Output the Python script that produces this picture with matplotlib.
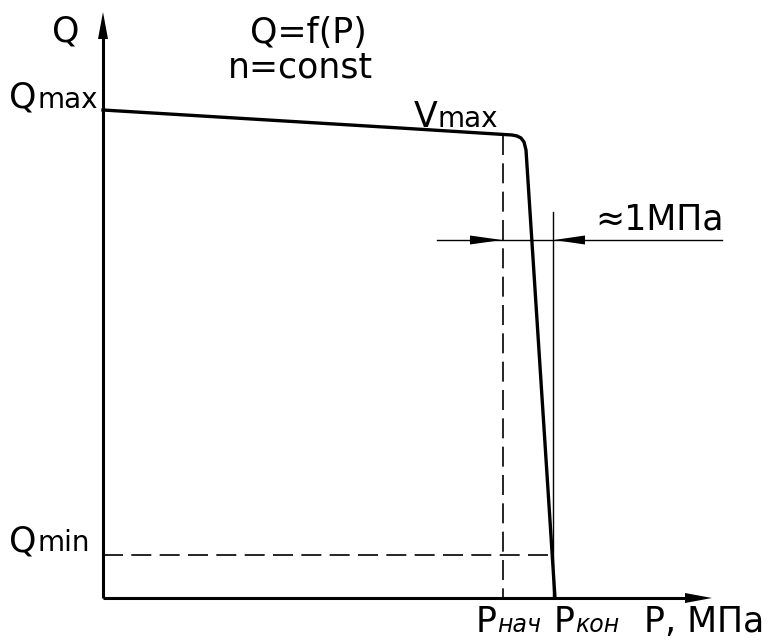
import numpy as np
import matplotlib.pyplot as plt

plt.rcParams['font.family'] = ['DejaVu Sans']

# schematic coordinates (drawing units, y grows downward)
axis_origin = (103, 598)
p_axis_end = 712
q_axis_end = 12

# Q = f(P) characteristic
curve_p = [103, 400, 512, 517, 521, 524, 526, 555]
curve_q = [110, 128, 135, 136, 138, 142, 150, 598]

p_nach = 503
p_kon = 553
q_min = 555
dim_y = 240

fig = plt.figure(figsize=(7.68, 6.41), dpi=100)
ax = fig.add_axes([0, 0, 1, 1])
ax.set_xlim(0, 768)
ax.set_ylim(641, 0)
ax.axis('off')

x0, y0 = axis_origin
# axes with arrows
ax.plot([x0, x0], [y0, q_axis_end + 20], color='k', lw=2.2, solid_capstyle='butt')
ax.plot([x0, p_axis_end - 20], [y0, y0], color='k', lw=2.2, solid_capstyle='butt')
ax.fill([x0 - 5, x0 + 5, x0], [q_axis_end + 27, q_axis_end + 27, q_axis_end], color='k', lw=0)
ax.fill([p_axis_end - 27, p_axis_end - 27, p_axis_end], [y0 - 5, y0 + 5, y0], color='k', lw=0)

# characteristic curve
ax.plot(curve_p, curve_q, color='k', lw=2.4, solid_joinstyle='round')

# dashed guides
ax.plot([p_nach, p_nach], [135, y0], color='k', lw=1.2, dashes=(12, 5))
ax.plot([x0, 552], [q_min, q_min], color='k', lw=1.2, dashes=(12, 5))

# thin vertical at P kon
ax.plot([p_kon, p_kon], [212, y0], color='k', lw=1.0)

# dimension line with arrows
ax.plot([437, 722], [dim_y, dim_y], color='k', lw=1.0)
ax.fill([470, 470, p_nach - 1], [dim_y - 4.5, dim_y + 4.5, dim_y], color='k', lw=0)
ax.fill([p_kon + 32, p_kon + 32, p_kon + 1], [dim_y - 4.5, dim_y + 4.5, dim_y], color='k', lw=0)

fs = 25
sub = 20
ax.text(660, 230, '≈1МПа', fontsize=fs, ha='center', va='baseline')
ax.text(66, 41, 'Q', fontsize=fs, ha='center', va='baseline')
ax.text(308, 43, 'Q=f(P)', fontsize=fs, ha='center', va='baseline')
ax.text(300, 77, 'n=const', fontsize=fs, ha='center', va='baseline')

ax.text(9, 108, 'Q', fontsize=fs, ha='left', va='baseline')
ax.text(38, 108, 'max', fontsize=sub, ha='left', va='baseline')
ax.text(414, 127, 'V', fontsize=fs, ha='left', va='baseline')
ax.text(438, 127, 'max', fontsize=sub, ha='left', va='baseline')
ax.text(9, 551, 'Q', fontsize=fs, ha='left', va='baseline')
ax.text(38, 551, 'min', fontsize=sub, ha='left', va='baseline')

ax.text(476, 632, 'P', fontsize=fs, ha='left', va='baseline')
ax.text(497, 632, 'нач', fontsize=17, style='italic', ha='left', va='baseline')
ax.text(554, 632, 'P', fontsize=fs, ha='left', va='baseline')
ax.text(575, 632, 'кон', fontsize=17, style='italic', ha='left', va='baseline')
ax.text(764, 632, 'P, МПа', fontsize=fs, ha='right', va='baseline')

fig.savefig('out.png', dpi=100)
